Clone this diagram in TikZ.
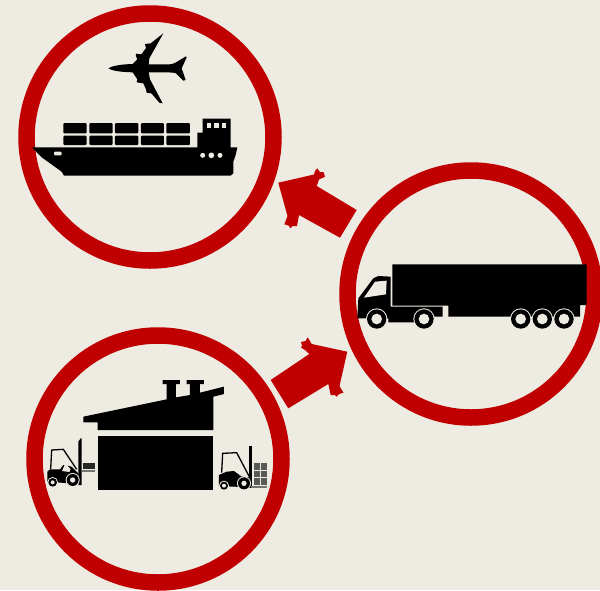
\documentclass[tikz,border=0pt]{standalone}
\definecolor{paper}{HTML}{EEEBE3}
\definecolor{brick}{HTML}{C00000}
\tikzset{
  ring/.style={circle,draw=brick,line width=16.5pt,fill=paper,minimum size=247pt,inner sep=0pt,outer sep=0pt},
  flow/.style={fill=brick,draw=none},
  ink/.style={fill=black,draw=none},
  gap/.style={fill=paper,draw=none},
}
\newcommand{\wheel}[4]{% x y outer inner
  \fill[paper] (#1,#2) circle ({#3+3});
  \fill[black] (#1,#2) circle (#3);
  \fill[paper] (#1,#2) circle (#4);
}
\begin{document}
\begin{tikzpicture}[x=1pt,y=-1pt]
\useasboundingbox (0,0) rectangle (600,590);
\fill[paper] (0,0) rectangle (600,590);
\begin{scope}
\clip (0,0) rectangle (600,590);
\node[ring] (air) at (150,137) {};
\node[ring] (road) at (471,294) {};
\node[ring] (store) at (158,459) {};

% arrow road -> air
\fill[flow] (278.3,182.7) -- (314,174.5) -- (315,171) -- (317.3,168.3) -- (320,172) -- (323.5,172) -- (325,176.7) -- (319,179.5) -- (316.7,186)
  -- (356.7,210) -- (340,237.7) -- (299,215) -- (297,226) -- (292.5,226) -- (290.7,228.3) -- (288.5,225.5) -- (284.3,224.3) -- (287.5,216) -- cycle;
% arrow store -> road
\fill[flow] (347.3,351.7) -- (311.7,344) -- (307.7,337.3) -- (305.5,341) -- (301,342) -- (302,346) -- (301,347.5) -- (305,350) -- (309.3,354)
  -- (270.7,380) -- (288.3,408.3) -- (328.3,384) -- (330.7,395) -- (335,395) -- (336.7,396.7) -- (339,394) -- (343.5,392.7) -- (339.5,386) -- cycle;
\end{scope}

% plane and ship
\begin{scope}[shift={(20,20)},scale=1/3]
\fill[ink] (265,145) .. controls (275,138) and (300,133) .. (338,132)
  -- (352,118) -- (348,108) -- (348,101) -- (364,103) -- (378,84) -- (375,72) -- (392,70) -- (430,40) -- (388,115) -- (386,133)
  -- (440,133) .. controls (455,133) and (462,132) .. (468,127) -- (498,109) -- (500,112) -- (485,145) -- (497,180) -- (490,182) -- (468,160)
  .. controls (460,157) and (450,157) .. (386,157) -- (390,178) -- (428,250) -- (418,248) -- (394,220) -- (380,218) -- (378,208) -- (370,190) -- (350,187) -- (352,178) -- (338,157)
  .. controls (300,156) and (275,152) .. (265,145) -- cycle;
% containers
\foreach \x/\w in {130/70,208/70,285/70,363/69,439/71}{
  \fill[ink,rounded corners=1pt] (\x,309) rectangle ++(\w,31);
  \fill[ink,rounded corners=1pt] (\x,347) rectangle ++(\w,28);
}
% superstructure
\fill[ink] (532,338) -- (548,338) -- (548,296) -- (632,296) -- (632,384) -- (532,384) -- cycle;
% hull
\fill[ink] (36,382) -- (652,382) -- (647,405) -- (640,425) -- (640,460) -- (632,467) -- (132,467) -- (125,455) -- (65,412) -- cycle;
% windows
\foreach \x in {567,590,612}{\fill[paper] (\x-7,309) rectangle (\x+7,323);}
\fill[paper,rounded corners=1pt] (102,395) rectangle (125,406);
\fill[paper] (548,406) circle (7.5) (574,406) circle (8.5) (600,406) circle (7.5);
\end{scope}

% truck
\begin{scope}[shift={(350,250)},scale=1/3]
\fill[ink] (22,205) -- (25,145) -- (70,85) -- (85,78) -- (122,80) -- (122,170) -- (278,170) -- (278,200) -- (240,200) -- (240,217) -- (115,217) -- (115,205) -- cycle;
\fill[ink] (127,43) -- (710,43) -- (710,165) -- (690,165) -- (690,200) -- (295,200) -- (295,167) -- (127,167) -- cycle;
\fill[paper] (42,143) -- (75,95) -- (110,92) -- (108,133) -- cycle;
\wheel{80}{207}{29}{16}
\wheel{222}{207}{29}{16}
\wheel{512}{207}{29}{16}
\wheel{577}{207}{29}{16}
\wheel{642}{207}{29}{16}
\end{scope}

% warehouse and forklifts
\begin{scope}[shift={(40,370)},scale=1/3]
\fill[ink] (130,140) -- (380,88) -- (380,42) -- (368,42) -- (368,30) -- (420,30) -- (420,42) -- (408,42) -- (408,82) -- (450,75) -- (450,42) -- (440,42) -- (440,30) -- (492,30) -- (492,42) -- (480,42) -- (480,68) -- (552,50) -- (552,72) -- (520,80) -- (520,180) -- (173,180) -- (173,157) -- (130,157) -- cycle;
\fill[ink] (173,197) rectangle (520,360);
% left forklift
\fill[ink] (115,215) -- (122,205) -- (125,205) -- (125,345) -- (115,345) -- cycle;
\draw[black,line width=1.3pt] (32,298) -- (35,240) -- (70,238) -- (110,298);
\fill[ink] (22,305) -- (30,298) -- (60,298) -- (70,285) -- (95,290) -- (115,310) -- (115,342) -- (22,335) -- cycle;
\fill[paper] (66,303) -- (76,280) -- (92,298) -- (88,306) -- cycle;
\fill[black!85] (128,278) rectangle (165,298);
\fill[black!55] (125,300) rectangle (165,307);
\wheel{38}{337}{13}{6}
\wheel{98}{330}{18}{8}
% right forklift
\fill[ink] (628,228) -- (636,228) -- (636,355) -- (628,355) -- cycle;
\draw[black,line width=1.3pt] (545,308) -- (548,250) -- (590,248) -- (628,320);
\fill[ink] (537,315) -- (560,305) -- (582,303) -- (605,320) -- (628,322) -- (628,352) -- (537,348) -- cycle;
\fill[black!65] (642,278) rectangle (680,345);
\draw[paper,line width=0.3pt] (642,300) -- (680,300) (642,322) -- (680,322) (661,278) -- (661,345);
\fill[black!55] (632,349) rectangle (680,355);
\wheel{552}{347}{12}{6}
\wheel{612}{340}{18}{8}
\end{scope}
\end{tikzpicture}
\end{document}
